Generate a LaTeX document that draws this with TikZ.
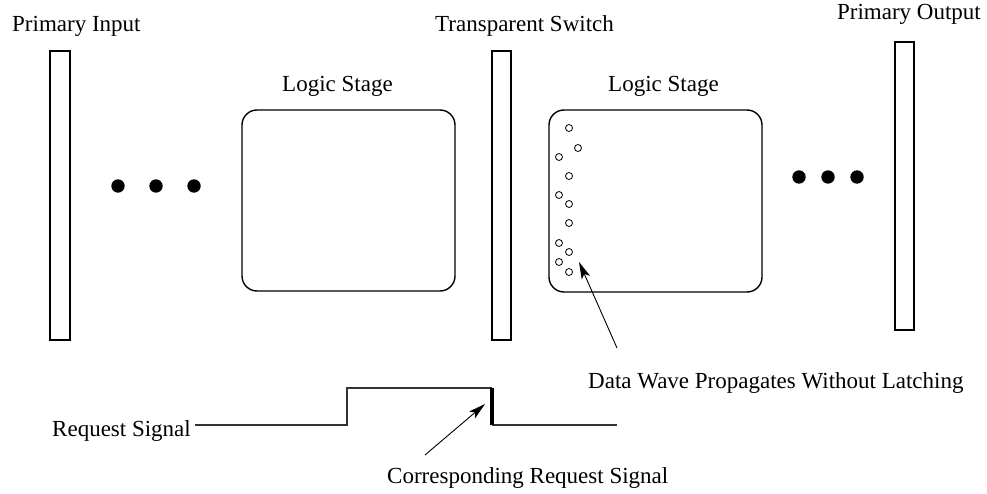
\documentclass[tikz,border=0pt]{standalone}
\usepackage{fontspec}
\setmainfont{Liberation Serif}
\usetikzlibrary{arrows.meta}
\begin{document}
\begin{tikzpicture}[x=1pt,y=-1pt,
  lbl/.style={inner sep=0pt, anchor=base west, font=\fontsize{23}{27}\selectfont},
  barbox/.style={draw, line width=1.4pt, inner sep=0pt, rectangle},
  stagebox/.style={draw, line width=1.4pt, inner sep=0pt, rectangle, rounded corners=15pt},
  bigdot/.style={fill=black, circle, inner sep=0pt, minimum size=13.4pt},
  wave/.style={draw, circle, line width=0.8pt, inner sep=0pt, minimum size=7pt},
  sig/.style={line width=1.1pt, black!80},
  ptr/.style={line width=0.9pt, -{Stealth[length=17pt,width=9pt,inset=4pt]}}]
\useasboundingbox (0,0) rectangle (987,494);

% labels
\node[lbl] (tpi) at (12,32) {Primary Input};
\node[lbl] (tts) at (435,32) {Transparent Switch};
\node[lbl, anchor=base east] (tpo) at (981,20) {Primary Output};
\node[lbl] (tls1) at (282,92) {Logic Stage};
\node[lbl] (tls2) at (608,92) {Logic Stage};
\node[lbl] (tdw) at (588,388) {Data Wave Propagates Without Latching};
\node[lbl] (trs) at (52,436) {Request Signal};
\node[lbl] (tcr) at (387,483) {Corresponding Request Signal};

% bars
\node[barbox, minimum width=20pt, minimum height=289pt] (pi) at (60,195.5) {};
\node[barbox, minimum width=19pt, minimum height=289pt] (ts) at (501.5,195.5) {};
\node[barbox, minimum width=19pt, minimum height=288pt] (po) at (904.5,186) {};

% logic stages
\node[stagebox, minimum width=213pt, minimum height=181pt] (ls1) at (348.5,200.5) {};
\node[stagebox, minimum width=213pt, minimum height=182pt] (ls2) at (655.5,201) {};

% dots
\node[bigdot] (d1) at (118,186) {};
\node[bigdot] (d2) at (156,186) {};
\node[bigdot] (d3) at (194,186) {};
\node[bigdot] (d4) at (799,177) {};
\node[bigdot] (d5) at (828,177) {};
\node[bigdot] (d6) at (857,177) {};

% data wave circles
\node[wave] (w1) at (569,128) {};
\node[wave] (w2) at (578,148) {};
\node[wave] (w3) at (559,157) {};
\node[wave] (w4) at (569,176) {};
\node[wave] (w5) at (559,195) {};
\node[wave] (w6) at (569,204) {};
\node[wave] (w7) at (569,223) {};
\node[wave] (w8) at (559,243) {};
\node[wave] (w9) at (569,252) {};
\node[wave] (w10) at (559,262) {};
\node[wave] (w11) at (569,272) {};

% data wave arrow
\coordinate (dwtail) at (617,348);
\coordinate (dwtip) at (579,262);
\draw[ptr] (dwtail) -- (dwtip);

% request signal
\coordinate (s0) at (195,425);
\coordinate (s1) at (347,425);
\coordinate (s2) at (347,388);
\coordinate (s3) at (492,388);
\coordinate (s4) at (492,425);
\coordinate (s5) at (617,425);
\draw[sig] (s0) -- (s1) -- (s2) -- (s3);
\draw[sig] (s4) -- (s5);
\draw[line width=3.2pt] (s3) -- (s4);

% corresponding arrow
\coordinate (crtail) at (425,455);
\coordinate (crtip) at (485,404);
\draw[ptr] (crtail) -- (crtip);
\end{tikzpicture}
\end{document}
